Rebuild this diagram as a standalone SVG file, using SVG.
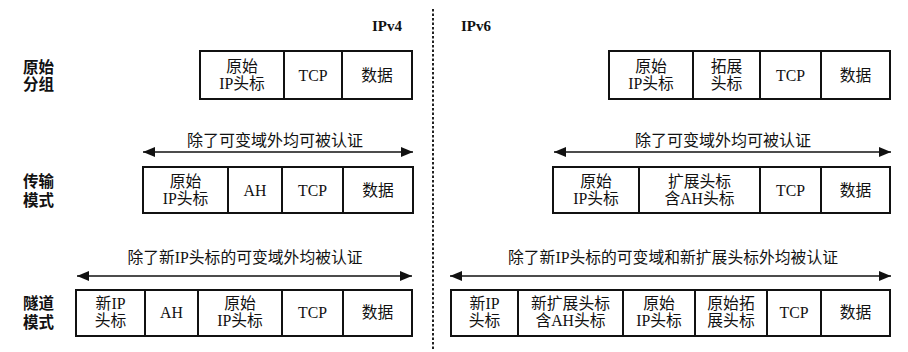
<svg xmlns="http://www.w3.org/2000/svg" width="908" height="352" viewBox="0 0 908 352">
<style>
.box{fill:#fff;stroke:#111;stroke-width:2}
.div{stroke:#111;stroke-width:2}
.t{font-family:"Liberation Serif","Noto Sans CJK SC",serif;font-size:15.8px;fill:#111;text-anchor:middle}
.a16{font-size:16px}
.lbl{font-family:"Liberation Sans","Noto Sans CJK SC",sans-serif;font-size:15.5px;font-weight:bold;fill:#111}
.hdr{font-family:"Liberation Serif","Noto Sans CJK SC",serif;font-size:15px;font-weight:bold;fill:#111}
.arr{stroke:#111;stroke-width:1.6;fill:none;marker-start:url(#ah);marker-end:url(#ah)}
.sep{stroke:#222;stroke-width:2;stroke-dasharray:2.5,2}
</style>
<defs>
<marker id="ah" markerUnits="userSpaceOnUse" markerWidth="13" markerHeight="11" refX="12" refY="5" orient="auto-start-reverse">
<path d="M0,0 L12,5 L0,10 z" fill="#111"/>
</marker>
</defs>
<rect width="908" height="352" fill="#fff"/>
<line class="sep" x1="433" y1="9" x2="433" y2="350"/>
<text class="hdr" x="372" y="31">IPv4</text>
<text class="hdr" x="461" y="31">IPv6</text>
<g id="label-orig"><text class="lbl" x="23" y="73">原始</text><text class="lbl" x="23" y="90">分组</text></g>
<g id="label-transport"><text class="lbl" x="23" y="187">传输</text><text class="lbl" x="23" y="206">模式</text></g>
<g id="label-tunnel"><text class="lbl" x="23" y="309">隧道</text><text class="lbl" x="23" y="328">模式</text></g>

<g id="v4-orig">
<rect class="box" x="200" y="51" width="212" height="48"/>
<line class="div" x1="284" y1="51" x2="284" y2="99"/><line class="div" x1="342" y1="51" x2="342" y2="99"/>
<text class="t" x="242" y="72">原始</text><text class="t" x="242" y="89">IP头标</text>
<text class="t" x="313" y="81">TCP</text><text class="t" x="377" y="81">数据</text>
</g>
<g id="v6-orig">
<rect class="box" x="609" y="51" width="281" height="48"/>
<line class="div" x1="693" y1="51" x2="693" y2="99"/><line class="div" x1="760" y1="51" x2="760" y2="99"/><line class="div" x1="821" y1="51" x2="821" y2="99"/>
<text class="t" x="651" y="72">原始</text><text class="t" x="651" y="89">IP头标</text>
<text class="t" x="726.5" y="72">拓展</text><text class="t" x="726.5" y="89">头标</text>
<text class="t" x="790.5" y="81">TCP</text><text class="t" x="855.5" y="81">数据</text>
</g>
<g id="v4-transport">
<rect class="box" x="143" y="167" width="270" height="46"/>
<line class="div" x1="228" y1="167" x2="228" y2="213"/><line class="div" x1="282" y1="167" x2="282" y2="213"/><line class="div" x1="343" y1="167" x2="343" y2="213"/>
<text class="t" x="185.5" y="187">原始</text><text class="t" x="185.5" y="204">IP头标</text>
<text class="t" x="255" y="196">AH</text><text class="t" x="312.5" y="196">TCP</text><text class="t" x="378" y="196">数据</text>
</g>
<g id="v6-transport">
<rect class="box" x="553" y="167" width="337" height="46"/>
<line class="div" x1="639" y1="167" x2="639" y2="213"/><line class="div" x1="760" y1="167" x2="760" y2="213"/><line class="div" x1="821" y1="167" x2="821" y2="213"/>
<text class="t" x="596" y="187">原始</text><text class="t" x="596" y="204">IP头标</text>
<text class="t" x="699.5" y="187">扩展头标</text><text class="t" x="699.5" y="204">含AH头标</text>
<text class="t" x="790.5" y="196">TCP</text><text class="t" x="855.5" y="196">数据</text>
</g>
<g id="v4-tunnel">
<rect class="box" x="76" y="290" width="336" height="46"/>
<line class="div" x1="145" y1="290" x2="145" y2="336"/><line class="div" x1="198" y1="290" x2="198" y2="336"/><line class="div" x1="282" y1="290" x2="282" y2="336"/><line class="div" x1="343" y1="290" x2="343" y2="336"/>
<text class="t" x="110.5" y="309">新IP</text><text class="t" x="110.5" y="326">头标</text>
<text class="t" x="171.5" y="318">AH</text>
<text class="t" x="240" y="309">原始</text><text class="t" x="240" y="326">IP头标</text>
<text class="t" x="312.5" y="318">TCP</text><text class="t" x="377.5" y="318">数据</text>
</g>
<g id="v6-tunnel">
<rect class="box" x="451" y="290" width="439" height="46"/>
<line class="div" x1="518" y1="290" x2="518" y2="336"/><line class="div" x1="623" y1="290" x2="623" y2="336"/><line class="div" x1="695" y1="290" x2="695" y2="336"/><line class="div" x1="767" y1="290" x2="767" y2="336"/><line class="div" x1="821" y1="290" x2="821" y2="336"/>
<text class="t" x="484.5" y="309">新IP</text><text class="t" x="484.5" y="326">头标</text>
<text class="t" x="570.5" y="309">新扩展头标</text><text class="t" x="570.5" y="326">含AH头标</text>
<text class="t" x="659" y="309">原始</text><text class="t" x="659" y="326">IP头标</text>
<text class="t" x="731" y="309">原始拓</text><text class="t" x="731" y="326">展头标</text>
<text class="t" x="794" y="318">TCP</text><text class="t" x="855.5" y="318">数据</text>
</g>

<g id="connectors">
<line class="arr" x1="143" y1="152" x2="413" y2="152"/>
<text class="t a16" x="275" y="146">除了可变域外均可被认证</text>
<line class="arr" x1="554" y1="152" x2="891" y2="152"/>
<text class="t a16" x="723" y="146">除了可变域外均可被认证</text>
<line class="arr" x1="77" y1="276" x2="412" y2="276"/>
<text class="t" x="245" y="263">除了新IP头标的可变域外均被认证</text>
<line class="arr" x1="450" y1="276" x2="891" y2="276"/>
<text class="t" x="673" y="263">除了新IP头标的可变域和新扩展头标外均被认证</text>
</g>
</svg>
